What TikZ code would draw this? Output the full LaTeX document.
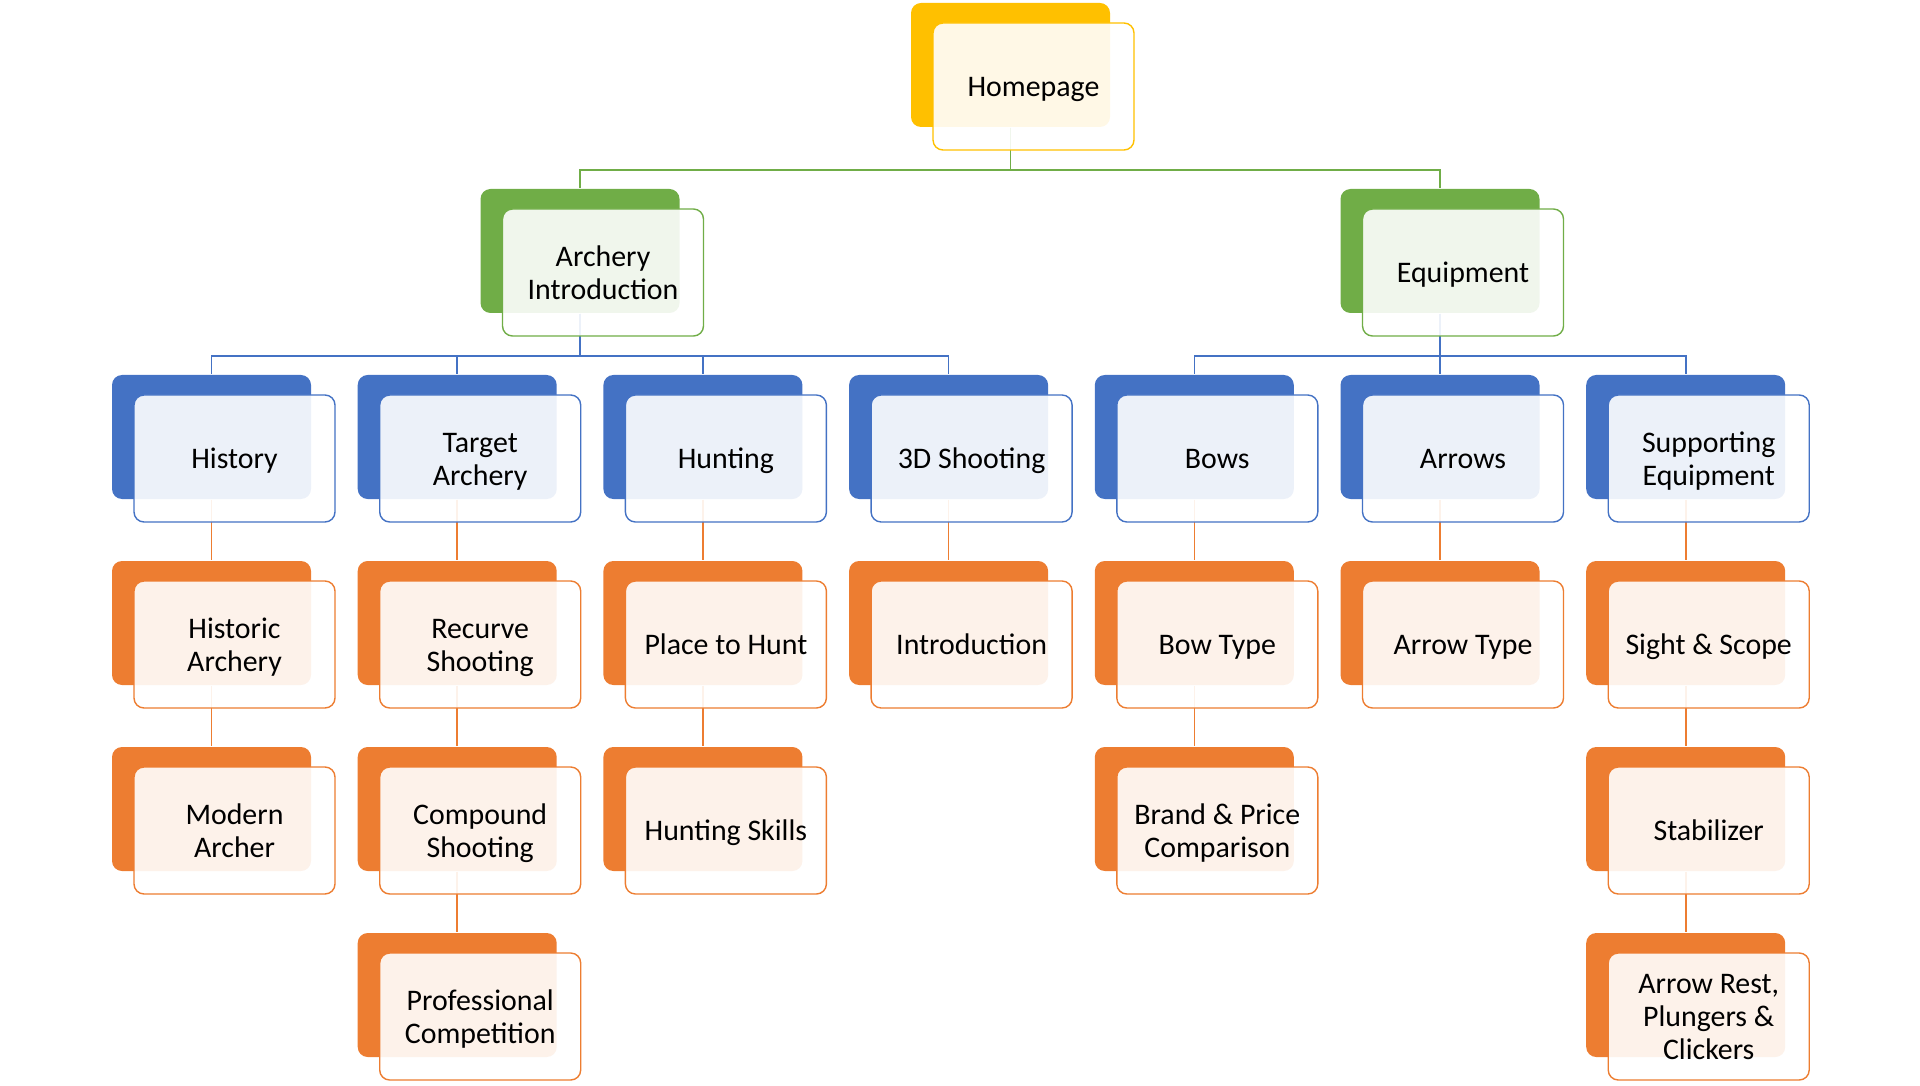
\documentclass[tikz,border=0pt]{standalone}
\usepackage{fontspec}
\setmainfont{Carlito}
\definecolor{yel}{HTML}{FFC000}
\definecolor{grn}{HTML}{70AD47}
\definecolor{blu}{HTML}{4472C4}
\definecolor{ora}{HTML}{ED7D31}
\newcommand{\topstrut}{\rule{0pt}{0.952em}}
\newcommand{\botstrut}{\rule[-0.269em]{0pt}{0.269em}}

\begin{document}
\begin{tikzpicture}

\tikzset{backbox/.style = {shape=rectangle, rounded corners=0.1cm, fill=#1, minimum width=1.99cm, minimum height=1.24cm, inner sep=0pt}}
\tikzset{frontbox/.style = {shape=rectangle, rounded corners=0.1cm, draw=#1, line width=0.4pt, fill=white, fill opacity=0.9, text opacity=1, minimum width=2.01cm, minimum height=1.27cm, inner sep=0pt, text width=2.01cm, align=flush center, font=\fontsize{8.5}{9.4}\selectfont, execute at begin node=\topstrut, execute at end node=\botstrut, xshift=0.23cm, yshift=-0.215cm}}
\tikzset{link/.style = {draw=#1, line width=0.45pt}}
\useasboundingbox (0,0) rectangle (19.2,-10.86);
%back boxes
\node[backbox=yel] (home) at (10.105,-0.65) {};
\node[backbox=grn] (intro) at (5.80,-2.51) {};
\node[backbox=grn] (equip) at (14.40,-2.51) {};
\node[backbox=blu] (hist) at (2.115,-4.37) {};
\node[backbox=blu] (target) at (4.572,-4.37) {};
\node[backbox=blu] (hunt) at (7.029,-4.37) {};
\node[backbox=blu] (shoot) at (9.486,-4.37) {};
\node[backbox=blu] (bows) at (11.943,-4.37) {};
\node[backbox=blu] (arrows) at (14.40,-4.37) {};
\node[backbox=blu] (support) at (16.857,-4.37) {};
\node[backbox=ora] (histarch) at (2.115,-6.23) {};
\node[backbox=ora] (recurve) at (4.572,-6.23) {};
\node[backbox=ora] (place) at (7.029,-6.23) {};
\node[backbox=ora] (introd) at (9.486,-6.23) {};
\node[backbox=ora] (bowtype) at (11.943,-6.23) {};
\node[backbox=ora] (arrowtype) at (14.40,-6.23) {};
\node[backbox=ora] (sight) at (16.857,-6.23) {};
\node[backbox=ora] (modern) at (2.115,-8.09) {};
\node[backbox=ora] (compound) at (4.572,-8.09) {};
\node[backbox=ora] (skills) at (7.029,-8.09) {};
\node[backbox=ora] (brand) at (11.943,-8.09) {};
\node[backbox=ora] (stab) at (16.857,-8.09) {};
\node[backbox=ora] (pro) at (4.572,-9.95) {};
\node[backbox=ora] (rest) at (16.857,-9.95) {};
%edges
\coordinate (bus0) at (0,-1.70);
\coordinate (bus1) at (0,-3.56);
\draw[link=grn] (home.south) -- (home.south |- bus0) -| (intro.north);
\draw[link=grn] (home.south) -- (home.south |- bus0) -| (equip.north);
\draw[link=blu] (intro.south) -- (intro.south |- bus1) -| (hist.north);
\draw[link=blu] (intro.south) -- (intro.south |- bus1) -| (target.north);
\draw[link=blu] (intro.south) -- (intro.south |- bus1) -| (hunt.north);
\draw[link=blu] (intro.south) -- (intro.south |- bus1) -| (shoot.north);
\draw[link=blu] (equip.south) -- (equip.south |- bus1) -| (bows.north);
\draw[link=blu] (equip.south) -- (equip.south |- bus1) -| (arrows.north);
\draw[link=blu] (equip.south) -- (equip.south |- bus1) -| (support.north);
\draw[link=ora] (hist) -- (histarch);
\draw[link=ora] (histarch) -- (modern);
\draw[link=ora] (target) -- (recurve);
\draw[link=ora] (recurve) -- (compound);
\draw[link=ora] (compound) -- (pro);
\draw[link=ora] (hunt) -- (place);
\draw[link=ora] (place) -- (skills);
\draw[link=ora] (shoot) -- (introd);
\draw[link=ora] (bows) -- (bowtype);
\draw[link=ora] (bowtype) -- (brand);
\draw[link=ora] (arrows) -- (arrowtype);
\draw[link=ora] (support) -- (sight);
\draw[link=ora] (sight) -- (stab);
\draw[link=ora] (stab) -- (rest);
%front boxes
\node[frontbox=yel] (homeL) at (home) {Homepage};
\node[frontbox=grn] (introL) at (intro) {Archery\\Introduction};
\node[frontbox=grn] (equipL) at (equip) {Equipment};
\node[frontbox=blu] (histL) at (hist) {History};
\node[frontbox=blu] (targetL) at (target) {Target\\Archery};
\node[frontbox=blu] (huntL) at (hunt) {Hunting};
\node[frontbox=blu] (shootL) at (shoot) {3D Shooting};
\node[frontbox=blu] (bowsL) at (bows) {Bows};
\node[frontbox=blu] (arrowsL) at (arrows) {Arrows};
\node[frontbox=blu] (supportL) at (support) {Supporting\\Equipment};
\node[frontbox=ora] (histarchL) at (histarch) {Historic\\Archery};
\node[frontbox=ora] (recurveL) at (recurve) {Recurve\\Shooting};
\node[frontbox=ora] (placeL) at (place) {Place to Hunt};
\node[frontbox=ora] (introdL) at (introd) {Introduction};
\node[frontbox=ora] (bowtypeL) at (bowtype) {Bow Type};
\node[frontbox=ora] (arrowtypeL) at (arrowtype) {Arrow Type};
\node[frontbox=ora] (sightL) at (sight) {Sight \& Scope};
\node[frontbox=ora] (modernL) at (modern) {Modern\\Archer};
\node[frontbox=ora] (compoundL) at (compound) {Compound\\Shooting};
\node[frontbox=ora] (skillsL) at (skills) {Hunting Skills};
\node[frontbox=ora] (brandL) at (brand) {Brand \& Price\\Comparison};
\node[frontbox=ora] (stabL) at (stab) {Stabilizer};
\node[frontbox=ora] (proL) at (pro) {Professional\\Competition};
\node[frontbox=ora] (restL) at (rest) {Arrow Rest,\\Plungers \&\\Clickers};

\end{tikzpicture}
\end{document}
